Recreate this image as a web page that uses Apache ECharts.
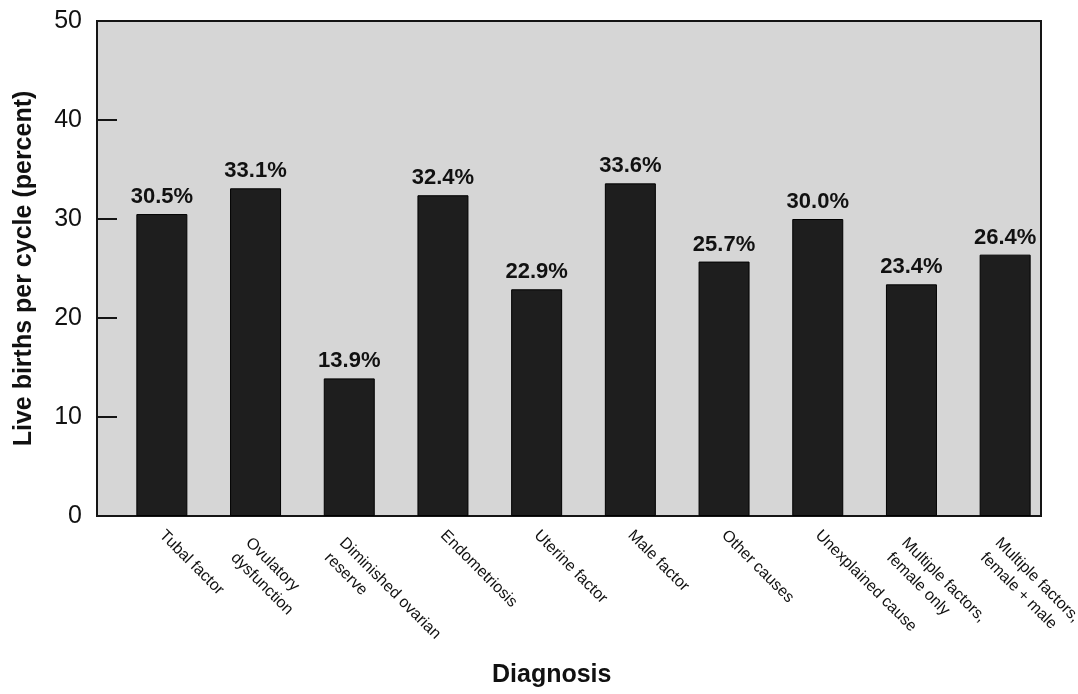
<!DOCTYPE html>
<html>
<head>
<meta charset="utf-8">
<script src="https://cdn.jsdelivr.net/npm/echarts@6/dist/echarts.min.js"></script>
<style>
  html, body { margin: 0; padding: 0; background: #fff; }
  #chart { width: 1078px; height: 694px; }
</style>
</head>
<body>
<div id="chart"></div>
<script>
var categories = [
    'Tubal factor',
    'Ovulatory\ndysfunction',
    'Diminished ovarian\nreserve',
    'Endometriosis',
    'Uterine factor',
    'Male factor',
    'Other causes',
    'Unexplained cause',
    'Multiple factors,\nfemale only',
    'Multiple factors,\nfemale + male'
];
var liveBirths = [30.5, 33.1, 13.9, 32.4, 22.9, 33.6, 25.7, 30.0, 23.4, 26.4];
var yTicks = [0, 10, 20, 30, 40, 50];

var chart = echarts.init(document.getElementById('chart'));

var font = 'Arial, "Liberation Sans", Helvetica, sans-serif';

// two-line labels hang from the tick with their first line, like the original
var xLabels = categories.map(function (c) {
    if (c.indexOf('\n') >= 0) {
        return { value: c, textStyle: { verticalAlign: 'top' } };
    }
    return c;
});

var option = {
    animation: false,
    textStyle: { fontFamily: font },
    grid: [
        // frame + grey background + y axis
        {
            left: 97, right: 37, top: 21, bottom: 178,
            show: true,
            outerBoundsMode: 'none',
            backgroundColor: '#d6d6d6',
            borderColor: '#151515',
            borderWidth: 2
        },
        // bars (slightly shifted to the right like the original)
        {
            left: 115, right: 26, top: 21, bottom: 178,
            outerBoundsMode: 'none'
        }
    ],
    xAxis: [
        { gridIndex: 0, type: 'category', data: categories, show: false },
        {
            gridIndex: 1,
            type: 'category',
            data: xLabels,
            axisLine: { show: false },
            axisTick: { show: false },
            axisLabel: {
                interval: 0,
                rotate: -45,
                margin: 17,
                fontSize: 16,
                lineHeight: 21,
                color: '#111',
                fontFamily: font
            }
        }
    ],
    yAxis: [
        {
            gridIndex: 0,
            type: 'value',
            min: yTicks[0],
            max: yTicks[yTicks.length - 1],
            interval: 10,
            splitLine: { show: false },
            axisLine: { show: true, lineStyle: { color: '#151515', width: 2 } },
            axisTick: { show: true, inside: true, length: 20, lineStyle: { color: '#151515', width: 2 } },
            axisLabel: {
                margin: 15,
                fontSize: 25,
                color: '#111',
                fontFamily: font
            },
            name: 'Live births per cycle (percent)',
            nameLocation: 'middle',
            nameGap: 60,
            nameTextStyle: {
                fontSize: 25,
                fontWeight: 'bold',
                color: '#111',
                fontFamily: font
            }
        },
        {
            gridIndex: 1,
            type: 'value',
            min: yTicks[0],
            max: yTicks[yTicks.length - 1],
            show: false
        }
    ],
    graphic: [
        {
            type: 'text',
            left: 492,
            top: 663,
            style: {
                text: 'Diagnosis',
                font: 'bold 25px ' + font,
                fill: '#111'
            }
        }
    ],
    series: [
        {
            type: 'bar',
            xAxisIndex: 1,
            yAxisIndex: 1,
            data: liveBirths,
            barWidth: 51,
            itemStyle: {
                color: '#1e1e1e',
                borderColor: '#000',
                borderWidth: 1
            },
            label: {
                show: true,
                position: 'top',
                distance: 6,
                fontSize: 22,
                fontWeight: 'bold',
                color: '#111',
                fontFamily: font,
                formatter: function (p) {
                    return p.value.toFixed(1) + '%';
                }
            }
        }
    ]
};

chart.setOption(option);
</script>
</body>
</html>
